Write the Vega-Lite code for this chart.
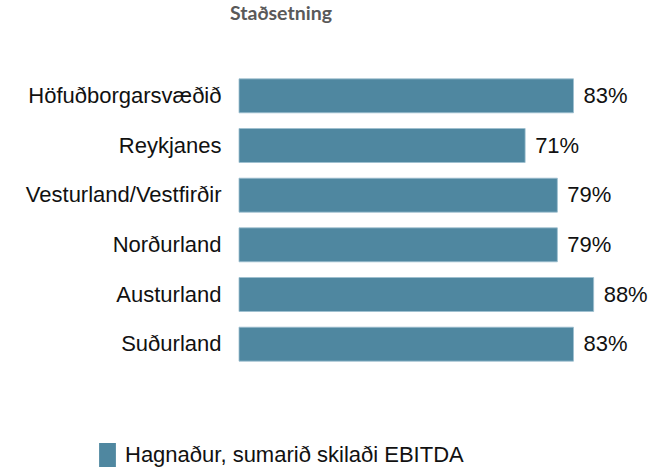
{
  "$schema": "https://vega.github.io/schema/vega-lite/v6.json",
  "autosize": "none",
  "width": 403,
  "height": 298,
  "padding": {"left": 239, "top": 71, "right": 30, "bottom": 104},
  "background": "#ffffff",
  "title": {
    "text": "Staðsetning",
    "anchor": "start",
    "frame": "group",
    "dx": -9,
    "offset": 47,
    "font": "Lato",
    "fontSize": 19.5,
    "fontWeight": "bold",
    "color": "#595959"
  },
  "config": {"view": {"stroke": null}},
  "data": {
    "values": [
      {"stadur": "Höfuðborgarsvæðið", "hlutfall": 0.83, "flokkur": "Hagnaður, sumarið skilaði EBITDA"},
      {"stadur": "Reykjanes", "hlutfall": 0.71, "flokkur": "Hagnaður, sumarið skilaði EBITDA"},
      {"stadur": "Vesturland/Vestfirðir", "hlutfall": 0.79, "flokkur": "Hagnaður, sumarið skilaði EBITDA"},
      {"stadur": "Norðurland", "hlutfall": 0.79, "flokkur": "Hagnaður, sumarið skilaði EBITDA"},
      {"stadur": "Austurland", "hlutfall": 0.88, "flokkur": "Hagnaður, sumarið skilaði EBITDA"},
      {"stadur": "Suðurland", "hlutfall": 0.83, "flokkur": "Hagnaður, sumarið skilaði EBITDA"}
    ]
  },
  "encoding": {
    "y": {
      "field": "stadur",
      "type": "nominal",
      "sort": null,
      "title": null,
      "scale": {"paddingInner": 0.316, "paddingOuter": 0.158},
      "axis": {
        "domain": false,
        "ticks": false,
        "labelPadding": 18,
        "labelFont": "Liberation Sans",
        "labelFontSize": 22,
        "labelColor": "#111111",
        "labelLimit": 300
      }
    },
    "x": {
      "field": "hlutfall",
      "type": "quantitative",
      "scale": {"domain": [0, 1]},
      "axis": null
    }
  },
  "layer": [
    {
      "mark": {"type": "bar", "stroke": "#9dbfcf", "strokeWidth": 0.8},
      "encoding": {
        "color": {
          "field": "flokkur",
          "type": "nominal",
          "scale": {"range": ["#4f87a0"]},
          "legend": {
            "title": null,
            "orient": "none",
            "legendX": -143.5,
            "legendY": 372,
            "symbolType": "M-0.7,-1H0.7V1H-0.7Z",
            "symbolSize": 576,
            "symbolStrokeWidth": 0,
            "labelFont": "Liberation Sans",
            "labelFontSize": 22,
            "labelColor": "#111111",
            "labelOffset": 5.5,
            "labelLimit": 500
          }
        }
      }
    },
    {
      "mark": {
        "type": "text",
        "align": "left",
        "dx": 10,
        "font": "Liberation Sans",
        "fontSize": 22,
        "color": "#111111"
      },
      "encoding": {
        "text": {"field": "hlutfall", "type": "quantitative", "format": ".0%"}
      }
    }
  ]
}
